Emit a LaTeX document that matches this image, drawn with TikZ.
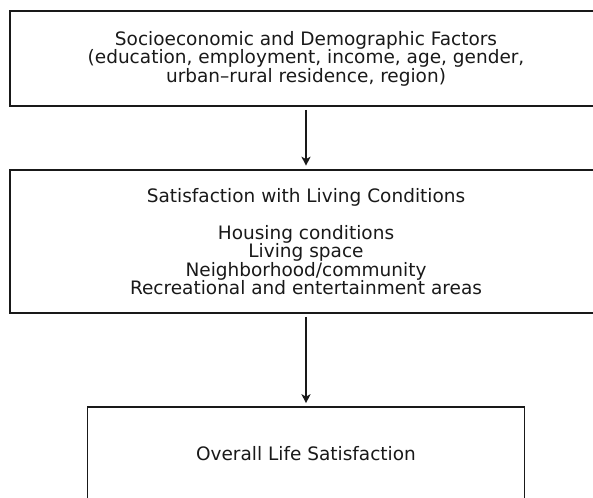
\documentclass[tikz,border=0pt]{standalone}
\usepackage{fontspec}
\setmainfont{DejaVu Sans}
\usetikzlibrary{arrows.meta}
\begin{document}
\begin{tikzpicture}[x=1pt,y=-1pt,
  box/.style={draw=black!90, line width=1.6pt, align=center, inner sep=0pt,
    font=\fontsize{18.5pt}{18.5pt}\selectfont, text=black!90},
  arr/.style={-{Stealth[length=9pt,width=9pt,inset=2.5pt]}, line width=1.6pt, draw=black!90}]
\useasboundingbox (0,0) rectangle (593,497);
\node[box, minimum width=592pt, minimum height=95pt] (a) at (306,58.5)
  {Socioeconomic and Demographic Factors\\(education, employment, income, age, gender,\\urban–rural residence, region)};
\node[box, minimum width=592pt, minimum height=143pt] (b) at (306,241.5)
  {Satisfaction with Living Conditions\\\mbox{}\\Housing conditions\\Living space\\Neighborhood/community\\Recreational and entertainment areas};
\node[box, minimum width=437pt, minimum height=94pt] (c) at (306,454)
  {Overall Life Satisfaction};
\draw[arr, shorten <=3pt, shorten >=3.5pt] (a.south) -- (b.north);
\draw[arr, shorten <=3pt, shorten >=3pt] (b.south) -- (c.north);
\end{tikzpicture}
\end{document}
